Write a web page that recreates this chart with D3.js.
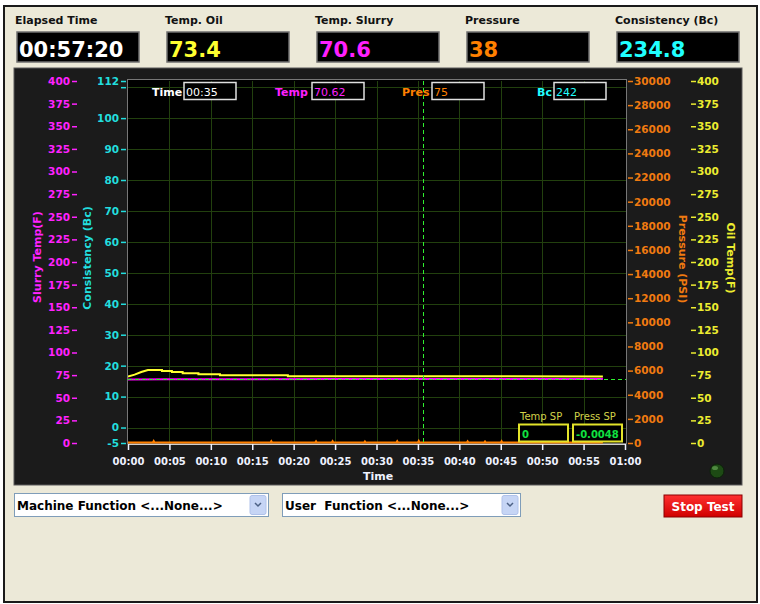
<!DOCTYPE html>
<html>
<head>
<meta charset="utf-8">
<script src="https://cdn.jsdelivr.net/npm/d3@7/dist/d3.min.js"></script>
<style>
body { margin: 0; background: #fff; }
text { font-family: "DejaVu Sans", Verdana, sans-serif; }
</style>
</head>
<body>
<div id="body"></div>
<script>
// readouts across the top
var readoutLabels = ["Elapsed Time", "Temp. Oil", "Temp. Slurry", "Pressure", "Consistency (Bc)"];
var readoutValues = ["00:57:20", "73.4", "70.6", "38", "234.8"];
var readoutColors = ["#ffffff", "#ffff30", "#ff20ff", "#ff8000", "#20ffff"];

// axis ticks
var timeTicks = [0, 5, 10, 15, 20, 25, 30, 35, 40, 45, 50, 55, 60];
var tempTicks = [0, 25, 50, 75, 100, 125, 150, 175, 200, 225, 250, 275, 300, 325, 350, 375, 400];
var bcTicks = [-5, 0, 10, 20, 30, 40, 50, 60, 70, 80, 90, 100, 110, 112];
var bcGrid = [0, 10, 20, 30, 40, 50, 60, 70, 80, 90, 100, 110];
var presTicks = [0, 2000, 4000, 6000, 8000, 10000, 12000, 14000, 16000, 18000, 20000, 22000, 24000, 26000, 28000, 30000];

// series: [minutes, value]
var oilTemp = [[0, 73.3], [0.8, 75.5], [1.6, 78.5], [2.4, 80.7], [4.1, 80.7], [4.1, 79.6], [5.3, 79.6], [5.3, 78.5],
  [6.6, 78.5], [6.6, 77.0], [8.5, 77.0], [8.5, 75.9], [11.1, 75.9], [11.1, 74.8], [19.3, 74.8], [19.3, 73.8], [57.33, 73.6]];
var slurryTemp = [[0, 70.3], [5, 70.4], [15, 70.5], [25, 70.6], [40, 70.6], [57.33, 70.6]];
var pressure = [[0, 40], [3.0, 40], [3.1, 160], [3.2, 40], [17.2, 40], [17.3, 150], [17.4, 40], [22.6, 40], [22.7, 140], [22.8, 40],
  [24.6, 40], [24.7, 150], [24.8, 40], [28.5, 40], [28.6, 130], [28.7, 40], [32.4, 40], [32.5, 150], [32.6, 40],
  [35.0, 40], [35.1, 170], [35.2, 40], [40.9, 40], [41.0, 140], [41.1, 40], [43.0, 40], [43.1, 130], [43.2, 40],
  [45.0, 40], [45.1, 150], [45.2, 40], [57.33, 38]];

// cursor
var cursorTime = 35.6, cursorTemp = 70.62;
var cursorLabels = ["Time", "Temp", "Pres", "Bc"];
var cursorValues = ["00:35", "70.62", "75", "242"];
var cursorColors = ["#ffffff", "#ff20ff", "#ff8000", "#20ffff"];

var spLabels = ["Temp SP", "Press SP"];
var spValues = ["0", "-0.0048"];

var W = 760, H = 604;
var svg = d3.select("#body").append("svg").attr("width", W).attr("height", H);

// window frame
svg.append("rect").attr("x", 4).attr("y", 6).attr("width", 753).attr("height", 596)
  .attr("fill", "#ece9d8").attr("stroke", "#1a1a1a").attr("stroke-width", 2);

// top readouts
readoutLabels.forEach(function(l, i){
  var x0 = 17 + 150 * i;
  svg.append("text").attr("x", x0 - 2).attr("y", 24).attr("font-size", 11).attr("font-weight", "bold")
    .attr("fill", "#111").text(l);
  svg.append("rect").attr("x", x0).attr("y", 32).attr("width", 122).attr("height", 30)
    .attr("fill", "#000").attr("stroke", "#6f6f6f").attr("stroke-width", 1.5);
  svg.append("text").attr("x", x0 + 2).attr("y", 57).attr("font-size", 21).attr("font-weight", "bold")
    .attr("fill", readoutColors[i]).text(readoutValues[i]);
});

// chart panel
svg.append("rect").attr("x", 14).attr("y", 68).attr("width", 728).attr("height", 417)
  .attr("fill", "#1b1b1b").attr("stroke", "#5a5a5a").attr("stroke-width", 1);

var plot = {left: 128, right: 626, top: 81, bottom: 443};

var x = d3.scaleLinear().domain([0, 60]).range([plot.left, 625]);
var tempY = d3.scaleLinear().domain([0, 400]).range([plot.bottom, plot.top]);
var bcY = d3.scaleLinear().domain([-5, 112]).range([plot.bottom, plot.top]);
var presY = d3.scaleLinear().domain([0, 30000]).range([plot.bottom, plot.top]);

svg.append("rect").attr("x", plot.left).attr("y", plot.top - 1).attr("width", plot.right - plot.left)
  .attr("height", plot.bottom - plot.top + 2).attr("fill", "#000");

// grid
var grid = svg.append("g").attr("stroke", "#22400e").attr("stroke-width", 1);
grid.selectAll(".h").data(bcGrid).enter().append("line")
  .attr("x1", plot.left).attr("x2", plot.right)
  .attr("y1", function(d){ return Math.round(bcY(d)) + 0.5; })
  .attr("y2", function(d){ return Math.round(bcY(d)) + 0.5; });
grid.selectAll(".v").data(timeTicks.slice(1, -1)).enter().append("line")
  .attr("y1", plot.top).attr("y2", plot.bottom)
  .attr("x1", function(d){ return Math.round(x(d)) + 0.5; })
  .attr("x2", function(d){ return Math.round(x(d)) + 0.5; });

// plot frame
svg.append("rect").attr("x", plot.left - 0.5).attr("y", plot.top - 1.5).attr("width", plot.right - plot.left + 1)
  .attr("height", plot.bottom - plot.top + 2).attr("fill", "none").attr("stroke", "#777");
svg.append("line").attr("x1", plot.left).attr("x2", plot.right).attr("y1", 444.5).attr("y2", 444.5)
  .attr("stroke", "#cfcfcf");

function styleAxis(g, color, size){
  g.select(".domain").remove();
  g.selectAll("line").attr("stroke", color).attr("stroke-width", 1.5);
  g.selectAll("text").attr("fill", color).attr("font-size", size || 10.5).attr("font-weight", "bold")
    .attr("font-family", "DejaVu Sans");
}

// left axes
svg.append("g").attr("transform", "translate(77,0)")
  .call(d3.axisLeft(tempY).tickValues(tempTicks).tickSize(5).tickPadding(2))
  .call(styleAxis, "#ff22ff");
svg.append("g").attr("transform", "translate(126,0)")
  .call(d3.axisLeft(bcY).tickValues(bcTicks).tickSize(5).tickPadding(2)
    .tickFormat(function(d){ return d === 110 ? "" : d; }))
  .call(styleAxis, "#22dede");

// right axes
svg.append("g").attr("transform", "translate(628,0)")
  .call(d3.axisRight(presY).tickValues(presTicks).tickSize(5).tickPadding(1).tickFormat(d3.format("d")))
  .call(styleAxis, "#f07a10");
svg.append("g").attr("transform", "translate(691,0)")
  .call(d3.axisRight(tempY).tickValues(tempTicks).tickSize(5).tickPadding(1))
  .call(styleAxis, "#ecec30");

// x axis
var fmt = function(m){ return (m === 60 ? "01" : "00") + ":" + d3.format("02d")(m % 60); };
svg.append("g").attr("transform", "translate(0,444)")
  .call(d3.axisBottom(x).tickValues(timeTicks).tickSize(6).tickPadding(8).tickFormat(fmt))
  .call(styleAxis, "#eef2ff", 10);

// axis titles
function vTitle(t, cx, cy, rot, color){
  svg.append("text").attr("transform", "translate(" + cx + "," + cy + ") rotate(" + rot + ")")
    .attr("text-anchor", "middle").attr("dominant-baseline", "central")
    .attr("font-size", 11).attr("font-weight", "bold").attr("fill", color).text(t);
}
vTitle("Slurry Temp(F)", 37, 257, -90, "#ff22ff");
vTitle("Consistency (Bc)", 87, 258, -90, "#22dede");
vTitle("Pressure (PSI)", 682, 259, 90, "#f07a10");
vTitle("Oil Temp(F)", 730, 258, 90, "#ecec30");
svg.append("text").attr("x", 378).attr("y", 480).attr("text-anchor", "middle").attr("font-size", 11)
  .attr("font-weight", "bold").attr("fill", "#eef2ff").text("Time");

// series
svg.append("clipPath").attr("id", "clip").append("rect")
  .attr("x", plot.left).attr("y", plot.top).attr("width", plot.right - plot.left).attr("height", plot.bottom - plot.top + 1);
var series = svg.append("g").attr("clip-path", "url(#clip)");
function addLine(data, yScale, color){
  series.append("path").datum(data)
    .attr("d", d3.line().x(function(d){ return x(d[0]); }).y(function(d){ return yScale(d[1]); }))
    .attr("fill", "none").attr("stroke", color).attr("stroke-width", 2);
}
addLine(pressure, presY, "#ff8000");
addLine(slurryTemp, tempY, "#ff00ff");
addLine(oilTemp, tempY, "#ffff30");

// cursor
var cur = svg.append("g").attr("stroke", "#30f030").attr("stroke-width", 1).attr("stroke-dasharray", "4,3")
  .attr("shape-rendering", "crispEdges");
cur.append("line").attr("x1", Math.round(x(cursorTime)) + 0.5).attr("x2", Math.round(x(cursorTime)) + 0.5)
  .attr("y1", plot.top).attr("y2", plot.bottom);
cur.append("line").attr("x1", plot.left).attr("x2", plot.right)
  .attr("y1", Math.round(tempY(cursorTemp)) + 0.5).attr("y2", Math.round(tempY(cursorTemp)) + 0.5);

// cursor readouts
var curLabelX = [152, 275, 402, 537];
var curBoxX = [184, 312, 432, 554];
cursorLabels.forEach(function(l, i){
  svg.append("text").attr("x", curLabelX[i]).attr("y", 95.5).attr("font-size", 11).attr("font-weight", "bold")
    .attr("fill", cursorColors[i]).text(l);
  svg.append("rect").attr("x", curBoxX[i]).attr("y", 82.5).attr("width", 52).attr("height", 17)
    .attr("fill", "#000").attr("stroke", "#e0e0e0").attr("stroke-width", 1.5);
  svg.append("text").attr("x", curBoxX[i] + 2).attr("y", 95.5).attr("font-size", 11)
    .attr("fill", cursorColors[i]).text(cursorValues[i]);
});

// set points
var spX = [519, 573];
spLabels.forEach(function(l, i){
  svg.append("text").attr("x", spX[i] + 1).attr("y", 420).attr("font-size", 10).attr("fill", "#d2d24a").text(l);
  svg.append("rect").attr("x", spX[i]).attr("y", 424.5).attr("width", 49).attr("height", 17)
    .attr("fill", "#000").attr("stroke", "#e4e42a").attr("stroke-width", 2);
  svg.append("text").attr("x", spX[i] + 3).attr("y", 437.5).attr("font-size", 10).attr("font-weight", "bold")
    .attr("fill", "#10e040").text(spValues[i]);
});

// status lamp
svg.append("circle").attr("cx", 717).attr("cy", 471).attr("r", 7).attr("fill", "#1d4a14").attr("stroke", "#0c200a");
svg.append("ellipse").attr("cx", 715).attr("cy", 468).attr("rx", 3).attr("ry", 2).attr("fill", "#4f8a40");

// bottom controls
var combos = [{x: 14, w: 254, t: "Machine Function <...None...>"}, {x: 282, w: 238, t: "User  Function <...None...>"}];
combos.forEach(function(c){
  svg.append("rect").attr("x", c.x + 0.5).attr("y", 493.5).attr("width", c.w).attr("height", 23)
    .attr("fill", "#fff").attr("stroke", "#7f9db9");
  svg.append("text").attr("x", c.x + 3).attr("y", 510).attr("font-size", 12).attr("font-weight", "bold")
    .attr("fill", "#000").style("white-space", "pre").text(c.t);
  var bx = c.x + c.w - 18;
  svg.append("rect").attr("x", bx).attr("y", 495.5).attr("width", 16).attr("height", 19).attr("rx", 2)
    .attr("fill", "#c6d5f5").attr("stroke", "#b0c2ea");
  svg.append("path").attr("d", "M" + (bx + 5) + ",503 L" + (bx + 8) + ",506 L" + (bx + 11) + ",503")
    .attr("fill", "none").attr("stroke", "#4d6185").attr("stroke-width", 1.5);
});
var grad = svg.append("defs").append("linearGradient").attr("id", "red").attr("x1", 0).attr("x2", 0).attr("y1", 0).attr("y2", 1);
grad.append("stop").attr("offset", "0%").attr("stop-color", "#ff3030");
grad.append("stop").attr("offset", "100%").attr("stop-color", "#d00000");
svg.append("rect").attr("x", 664).attr("y", 495).attr("width", 78).attr("height", 22)
  .attr("fill", "url(#red)").attr("stroke", "#8a0000");
svg.append("text").attr("x", 703).attr("y", 511).attr("text-anchor", "middle").attr("font-size", 12)
  .attr("font-weight", "bold").attr("fill", "#fff").text("Stop Test");
</script>
</body>
</html>
